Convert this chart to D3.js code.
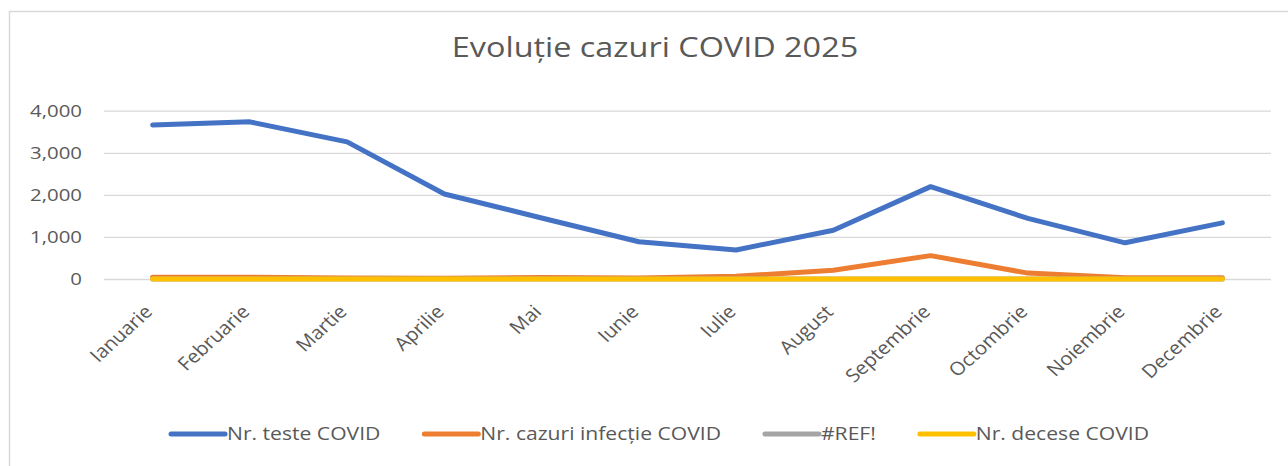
<!DOCTYPE html>
<html lang="ro">
<head>
    <meta charset="utf-8">
    <title>Evoluție cazuri COVID 2025</title>
    <script src="https://d3js.org/d3.v7.min.js" charset="utf-8"></script>
    <style type="text/css">
        body { margin: 0; background: #fff; }
        svg text { font-family: "Open Sans", sans-serif; fill: #595959; }
    </style>
</head>
<body>
	<svg width="1288" height="466"></svg>
	<script>
	    // date
	    var luni = ["Ianuarie", "Februarie", "Martie", "Aprilie", "Mai", "Iunie",
	                "Iulie", "August", "Septembrie", "Octombrie", "Noiembrie", "Decembrie"];
	    var teste = [3660, 3735, 3260, 2020, 1450, 885, 690, 1160, 2195, 1440, 860, 1335];
	    var cazuri = [40, 40, 25, 15, 35, 25, 65, 210, 555, 140, 30, 30];
	    var refErr = [0, 0, 0, 0, 0, 0, 0, 0, 0, 0, 0, 0];
	    var decese = [2, 2, 1, 1, 1, 1, 1, 1, 2, 1, 1, 1];
	    var yTicks = [0, 1000, 2000, 3000, 4000];

	    var serii = [
	        { name: "Nr. teste COVID", color: "#4472C4", values: teste },
	        { name: "Nr. cazuri infecție COVID", color: "#ED7D31", values: cazuri },
	        { name: "#REF!", color: "#A5A5A5", values: refErr },
	        { name: "Nr. decese COVID", color: "#FFC000", values: decese }
	    ];

	    var sx = 1.2; // textul din original e putin latit pe orizontala

	    var svg = d3.select("svg");

	    // chenar
	    svg.append("rect")
	       .attr("x", 9.5).attr("y", 11.5)
	       .attr("width", 1400).attr("height", 600)
	       .attr("fill", "none")
	       .attr("stroke", "#D9D9D9")
	       .attr("stroke-width", 1.5);

	    svg.append("text")
	       .attr("transform", "translate(655,57) scale(" + sx + ",1)")
	       .attr("text-anchor", "middle")
	       .style("font-size", "27px")
	       .text("Evoluție cazuri COVID 2025");

	    var left = 104, right = 1271;
	    var xScale = d3.scaleBand().domain(luni).range([left, right]);
	    var yScale = d3.scaleLinear().domain([0, 4000]).range([279, 110.7]);

	    // grila
	    var grid = svg.append("g")
	        .attr("transform", "translate(" + left + ",0)")
	        .call(d3.axisLeft(yScale).tickValues(yTicks)
	              .tickFormat("").tickSize(-(right - left)));
	    grid.select(".domain").remove();
	    grid.selectAll(".tick line").attr("stroke", "#D9D9D9").attr("stroke-width", 1.3);

	    // etichete y
	    svg.append("g").selectAll("text")
	       .data(yTicks)
	       .join("text")
	       .attr("text-anchor", "end")
	       .attr("transform", function(d) {
	           return "translate(82," + (yScale(d) + 6) + ") scale(" + sx + ",1)";
	       })
	       .style("font-size", "17px")
	       .text(d3.format(","));

	    // etichete x
	    svg.append("g").selectAll("text")
	       .data(luni)
	       .join("text")
	       .attr("text-anchor", "end")
	       .attr("transform", function(d) {
	           return "translate(" + (xScale(d) + xScale.bandwidth() / 2 + 1) + ",313) scale(1.1,1) rotate(-45)";
	       })
	       .style("font-size", "18.5px")
	       .text(function(d) { return d; });

	    var line = d3.line()
	        .x(function(d, i) { return xScale(luni[i]) + xScale.bandwidth() / 2; })
	        .y(function(d) { return yScale(d); });

	    svg.append("g").selectAll("path")
	       .data(serii)
	       .join("path")
	       .attr("d", function(s) { return line(s.values); })
	       .attr("fill", "none")
	       .attr("stroke", function(s) { return s.color; })
	       .attr("stroke-width", 5)
	       .attr("stroke-linecap", "round")
	       .attr("stroke-linejoin", "round");

	    // legenda
	    var leg = svg.append("g");
	    var x = 0;
	    serii.forEach(function(s) {
	        leg.append("line")
	           .attr("x1", x + 2).attr("x2", x + 56)
	           .attr("y1", 434).attr("y2", 434)
	           .attr("stroke", s.color).attr("stroke-width", 5)
	           .attr("stroke-linecap", "round");
	        var t = leg.append("text")
	           .attr("transform", "translate(" + (x + 58) + ",440) scale(" + sx + ",1)")
	           .style("font-size", "17.6px")
	           .text(s.name);
	        x += 58 + t.node().getComputedTextLength() * sx + 42;
	    });
	    var total = x - 42;
	    leg.attr("transform", "translate(" + (659 - total / 2) + ",0)");
	</script>
</body>
</html>
